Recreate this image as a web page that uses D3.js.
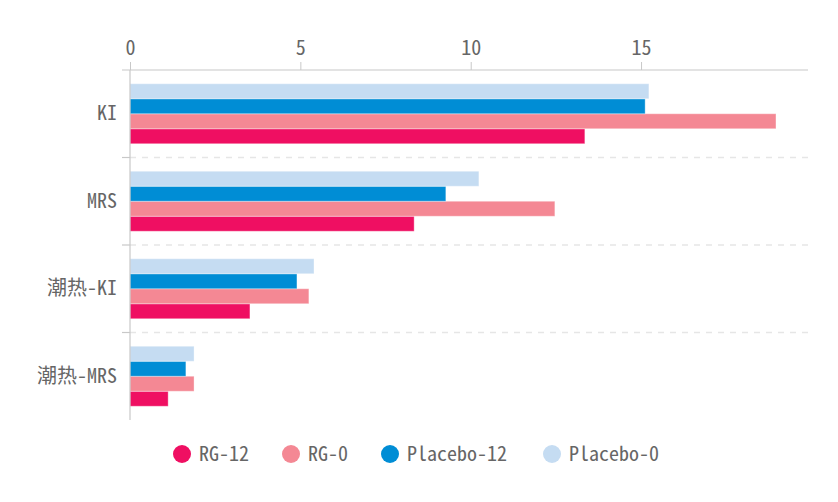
<!DOCTYPE html>
<html>
<head>
<meta charset="utf-8">
<script src="https://cdn.jsdelivr.net/npm/d3@7/dist/d3.min.js"></script>
<style>
  html, body { margin: 0; padding: 0; background: #fff; }
  svg { display: block; }
  text { font-family: "Noto Sans Mono CJK SC", "Liberation Mono", "Noto Sans CJK SC", monospace; }
</style>
</head>
<body>
<svg id="chart" width="838" height="502"></svg>
<script>
// ---- data ----
const categories = ["KI", "MRS", "潮热-KI", "潮热-MRS"];
const seriesNames = ["RG-12", "RG-0", "Placebo-12", "Placebo-0"];
const rg12 = [13.35, 8.34, 3.52, 1.12];
const rg0 = [18.96, 12.47, 5.25, 1.88];
const placebo12 = [15.12, 9.27, 4.90, 1.64];
const placebo0 = [15.23, 10.24, 5.40, 1.88];
const xTicks = [0, 5, 10, 15];
const xMax = 19.9;
const colors = ["#EF0F62", "#F48894", "#008DD5", "#C5DCF2"];

const seriesValues = [rg12, rg0, placebo12, placebo0];

const svg = d3.select("#chart");
const mLeft = 130, mRight = 808, mTop = 70, mBottom = 420;

const x = d3.scaleLinear().domain([0, xMax]).range([mLeft, mRight]);
const y = d3.scaleBand().domain(categories).range([mTop, mBottom]);
const bw = y.bandwidth();
// top-to-bottom order within group: Placebo-0, Placebo-12, RG-0, RG-12
const order = seriesNames.slice().reverse();
const barH = 15;
const groupH = barH * order.length;
const y1 = d3.scaleBand().domain(order).range([(bw - groupH) / 2, (bw + groupH) / 2]);

const axisColor = "#c8c8c8";
const textColor = "#666";

// dashed separators
const boundaries = categories.slice(1).map(c => y(c));
svg.append("g").selectAll("line").data(boundaries).join("line")
  .attr("x1", mLeft).attr("x2", mRight)
  .attr("y1", d => d).attr("y2", d => d)
  .attr("stroke", "#e6e6e6").attr("stroke-width", 1.5)
  .attr("stroke-dasharray", "6,6");

// bars
const data = [];
categories.forEach((c, i) => {
  seriesNames.forEach((s, j) => {
    data.push({ cat: c, series: s, value: seriesValues[j][i], color: colors[j] });
  });
});
svg.append("g").selectAll("rect").data(data).join("rect")
  .attr("x", x(0))
  .attr("y", d => y(d.cat) + y1(d.series))
  .attr("width", d => x(d.value) - x(0))
  .attr("height", y1.bandwidth())
  .attr("fill", d => d.color)
  .attr("stroke", "rgba(255,255,255,0.35)")
  .attr("stroke-width", 1);

// top axis
const xAxis = d3.axisTop(x).tickValues(xTicks).tickSize(8).tickSizeOuter(0).tickPadding(7)
  .tickFormat(d3.format("d"));
const gx = svg.append("g").attr("transform", `translate(0,${mTop})`).call(xAxis);
gx.select(".domain").remove();
gx.selectAll(".tick line").attr("stroke", axisColor);
gx.selectAll(".tick text").attr("fill", textColor).attr("font-size", 20)
  .style("font-family", "'Noto Sans Mono CJK SC', 'Liberation Sans', sans-serif");
svg.append("line").attr("x1", mLeft - 8).attr("x2", mRight)
  .attr("y1", mTop).attr("y2", mTop).attr("stroke", axisColor).attr("stroke-width", 1.2);

// left axis
svg.append("line").attr("x1", mLeft).attr("x2", mLeft)
  .attr("y1", mTop).attr("y2", mBottom).attr("stroke", axisColor).attr("stroke-width", 1.2);
svg.append("g").selectAll("line").data(boundaries).join("line")
  .attr("x1", mLeft - 8).attr("x2", mLeft)
  .attr("y1", d => d).attr("y2", d => d)
  .attr("stroke", axisColor).attr("stroke-width", 1.2);
const yAxis = d3.axisLeft(y).tickSize(0).tickPadding(13);
const gy = svg.append("g").attr("transform", `translate(${mLeft},0)`).call(yAxis);
gy.select(".domain").remove();
gy.selectAll(".tick text").attr("fill", textColor).attr("font-size", 20)
  .style("font-family", "'Noto Sans Mono CJK SC', 'Liberation Mono', 'Noto Sans CJK SC', monospace");

// legend
const legendX = [182, 291, 390, 552];
const lg = svg.append("g").selectAll("g").data(seriesNames).join("g")
  .attr("transform", (d, i) => `translate(${legendX[i]},454)`);
lg.append("circle").attr("r", 9).attr("fill", (d, i) => colors[i]);
lg.append("text").attr("x", 17).attr("dy", "0.35em")
  .attr("fill", textColor).attr("font-size", 20).text(d => d);
</script>
</body>
</html>
